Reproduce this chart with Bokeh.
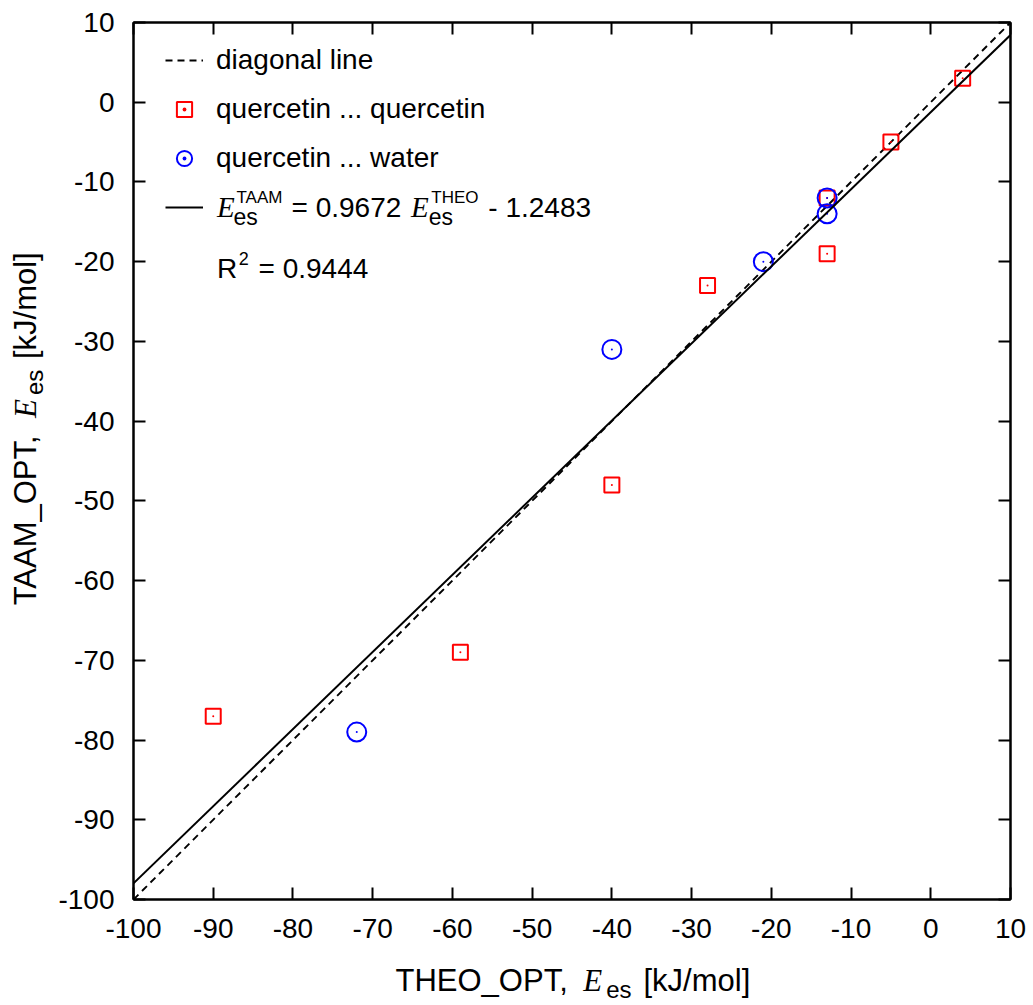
import numpy as np
from bokeh.plotting import figure
from bokeh.layouts import row, column
from bokeh.models import (Range1d, FixedTicker, LinearAxis, Legend, LegendItem, Label,
                          CustomLabelingPolicy)
from bokeh.core.properties import value
from bokeh.embed import file_html
from bokeh.resources import INLINE

# ---------------- data ----------------
qq_theo = [4, -5, -13, -13, -28, -40, -59, -90]      # quercetin ... quercetin, THEO_OPT
qq_taam = [3, -5, -12, -19, -23, -48, -69, -77]      # quercetin ... quercetin, TAAM_OPT
qw_theo = [-13, -13, -21, -40, -72]                  # quercetin ... water, THEO_OPT
qw_taam = [-12, -14, -20, -31, -79]                  # quercetin ... water, TAAM_OPT
fit_slope = 0.9672
fit_intercept = -1.2483
r_squared = 0.9444
axis_min, axis_max = -100, 10
ticks = list(range(-100, 11, 10))
tick_labels = {t: str(t) for t in ticks}

line_x = np.array([axis_min, axis_max], dtype=float)
diag_y = line_x.copy()
fit_y = fit_slope * line_x + fit_intercept

# ---------------- layout constants ----------------
W_TOTAL, H_TOTAL = 1033, 1005
LEFT_W = 50                    # width of the strip holding the y-axis title
FL, FT, FW, FH = 133, 22, 877, 877
MAIN_B = 52                    # main plot border below the frame (tick labels)
MAIN_H = FT + FH + MAIN_B
BOT_H = H_TOTAL - MAIN_H       # strip holding the x-axis title
SANS = "Liberation Sans"
SERIF = "Liberation Serif"
BSHIFT = 0.36                  # baseline correction (fraction of font size)

p = figure(frame_width=FW, frame_height=FH,
           x_range=Range1d(axis_min, axis_max), y_range=Range1d(axis_min, axis_max),
           min_border_left=FL - LEFT_W, min_border_right=W_TOTAL - FL - FW,
           min_border_top=FT, min_border_bottom=MAIN_B,
           output_backend="svg", toolbar_location=None, background_fill_color="white",
           border_fill_color="white")
p.xgrid.visible = False
p.ygrid.visible = False
p.outline_line_color = "black"
p.outline_line_width = 2

bottom_ax = p.below[0]
left_ax = p.left[0]
top_ax = LinearAxis(major_label_text_font_size="1px", major_label_standoff=0,
                    major_label_policy=CustomLabelingPolicy(code="return new Set()"))
right_ax = LinearAxis(major_label_text_font_size="1px", major_label_standoff=0,
                      major_label_policy=CustomLabelingPolicy(code="return new Set()"))
p.add_layout(top_ax, "above")
p.add_layout(right_ax, "right")

for ax in [bottom_ax, left_ax, top_ax, right_ax]:
    ax.ticker = FixedTicker(ticks=ticks)
    ax.major_tick_in = 12
    ax.major_tick_out = 0
    ax.minor_tick_in = 0
    ax.minor_tick_out = 0
    ax.axis_line_width = 2
    ax.axis_line_color = "black"
    ax.major_tick_line_width = 2
    ax.major_tick_line_color = "black"
for ax in [bottom_ax, left_ax]:
    ax.major_label_overrides = tick_labels
    ax.major_label_text_font = SANS
    ax.major_label_text_font_size = "28px"
    ax.major_label_text_color = "black"
bottom_ax.major_label_standoff = 19
left_ax.major_label_standoff = 19

# ---------------- glyphs ----------------
diag = p.line(line_x, diag_y, line_color="black", line_width=1.9, line_dash="7 5")
sq = p.scatter(qq_theo, qq_taam, marker="square", size=15, fill_color=None,
               line_color="red", line_width=2)
sqd = p.scatter(qq_theo, qq_taam, marker="dot", size=8, fill_color="red", line_color="red")
ci = p.scatter(qw_theo, qw_taam, marker="circle", size=19, fill_color=None,
               line_color="blue", line_width=2)
cid = p.scatter(qw_theo, qw_taam, marker="dot", size=8, fill_color="blue", line_color="blue")
fit = p.line(line_x, fit_y, line_color="black", line_width=2)

# ---------------- legend ----------------
ROW_H, SPACING = 40, 9
GLYPH_W = 38
content_h = 4 * ROW_H + 3 * SPACING
content_top = 60 - ROW_H / 2
legend = Legend(items=[
    LegendItem(label="diagonal line", renderers=[diag]),
    LegendItem(label="quercetin ... quercetin", renderers=[sq, sqd]),
    LegendItem(label="quercetin ... water", renderers=[ci, cid]),
    LegendItem(label=" ", renderers=[fit]),
], location=(165 - FL, FT + FH - (content_top + content_h)),
    glyph_width=GLYPH_W, glyph_height=ROW_H, label_height=ROW_H, label_standoff=13,
    spacing=SPACING, padding=10, margin=0, border_line_color=None,
    background_fill_alpha=0, label_text_font=SANS, label_text_font_size="28px",
    label_text_color="black")
p.add_layout(legend)

# ---------------- composed texts ----------------
AW = {'T': 611, 'H': 722, 'E': 667, 'O': 778, '_': 556, 'P': 667, 'A': 667, 'M': 833,
      ',': 278, ' ': 278, '[': 278, ']': 278, 'k': 500, 'J': 500, '/': 278, 'm': 833,
      'o': 556, 'l': 222, 'e': 556, 's': 500, '=': 584, '.': 278, '-': 333, 'R': 722}
for d in "0123456789":
    AW[d] = 556


def tw(s, size):
    return sum(AW.get(c, 556) for c in s) * size / 1000.0


SC = (axis_max - axis_min) / FW


def dx(px):
    return axis_min + (px - FL) * SC


def dy(py):
    return axis_max - (py - FT) * SC


def put(text, px, py, size, font=SANS, style="normal"):
    py = py - BSHIFT * size
    p.add_layout(Label(x=dx(px), y=dy(py), text=text, text_font=font,
                       text_font_style=style, text_font_size=f"{size}px",
                       text_color="black", text_align="left",
                       text_baseline="alphabetic"))


# fit equation in legend row 4
LS, ES, SUP, SUB = 28, 29, 17, 23
b4 = 217
put("E", 216.5, b4, ES, SERIF, "italic")
put("TAAM", 236, b4 - 14, SUP)
put("es", 233, b4 + 8, SUB)
x = 236 + tw("TAAM", SUP) + tw(" ", LS)
put(f"= {fit_slope:.4f}", x, b4, LS)
x += tw(f"= {fit_slope:.4f}", LS) + tw(" ", LS) + 2
put("E", x, b4, ES, SERIF, "italic")
xs = x + 0.611 * ES + 2
put("THEO", xs + 0.5, b4 - 14, SUP)
put("es", xs - 2, b4 + 8, SUB)
x = max(xs + 0.5 + tw("THEO", SUP), xs - 2 + tw("es", SUB)) + tw(" ", LS)
put(f"- {abs(fit_intercept):.4f}", x + 2, b4, LS)

# R^2 row
b5 = 278
put("R", 216.5, b5, LS)
x = 216.5 + tw("R", LS) + 1.5
put("2", x, b5 - 14, 18)
x += tw("2", 18) + tw(" ", LS) + 2
put(f"= {r_squared:.4f}", x, b5, LS)

# ---------------- axis titles (in their own strips) ----------------
AXS, AXSUB = 31, 24


def strip(w, h):
    f = figure(width=w, height=h, x_range=Range1d(0, w), y_range=Range1d(0, h),
               x_axis_type=None, y_axis_type=None, min_border=0,
               output_backend="svg", toolbar_location=None,
               outline_line_color=None, background_fill_color="white",
               border_fill_color="white")
    return f


def stext(f, s, x, y, size, font=SANS, style="normal", angle=0.0):
    f.text(x=[x], y=[y], text=[s], text_font=value(font), text_font_size=value(f"{size}px"),
           text_font_style=value(style), text_color="black", text_align="left",
           text_baseline="alphabetic", angle=angle)


# x-axis title: canvas baseline at y=991
xf = strip(W_TOTAL, BOT_H)
yb = H_TOTAL - 991
x = 395
stext(xf, "THEO_OPT,", x, yb + BSHIFT * AXS, AXS)
x += tw("THEO_OPT,", AXS) + 12
stext(xf, "E", x, yb + BSHIFT * AXS, AXS, SERIF, "italic")
x += 0.611 * AXS + 4
stext(xf, "es", x, yb - 7 + BSHIFT * AXSUB, AXSUB)
x += tw("es", AXSUB) + 12
stext(xf, "[kJ/mol]", x, yb + BSHIFT * AXS, AXS)

# y-axis title: rotated, reading upward; canvas anchors (empirically corrected)
lf = strip(LEFT_W, MAIN_H)
rot = np.pi / 2
bx = 25
stext(lf, "TAAM_OPT,", bx, MAIN_H - 632, AXS, angle=rot)
stext(lf, "E", bx, MAIN_H - 429, AXS, SERIF, "italic", angle=rot)
stext(lf, "es", bx + 9, MAIN_H - 404, AXSUB, angle=rot)
stext(lf, "[kJ/mol]", bx, MAIN_H - 365, AXS, angle=rot)

layout = column(row(lf, p, spacing=0), xf, spacing=0)
open("out.html", "w").write(file_html(layout, INLINE))
